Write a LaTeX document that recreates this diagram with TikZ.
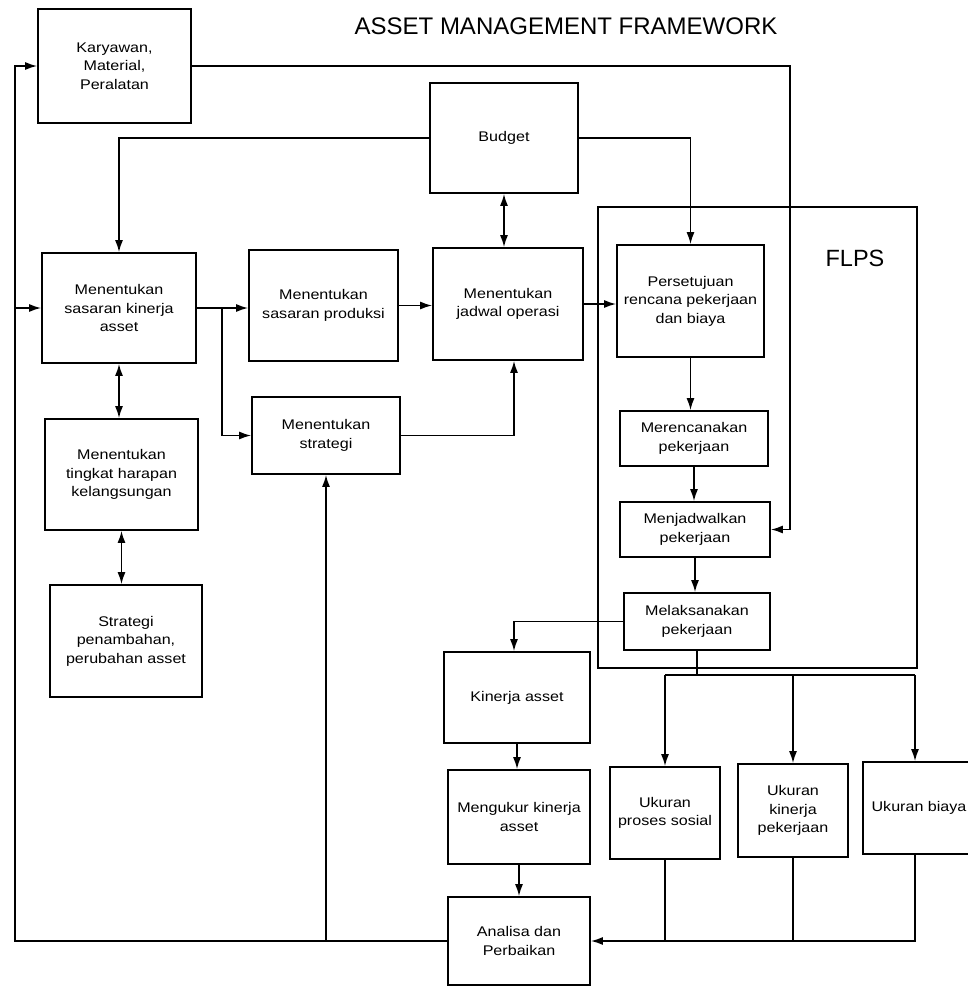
\documentclass[tikz,border=0pt]{standalone}
\usepackage{fontspec}
\setmainfont{Liberation Sans}
\newfontfamily\boxfont{Liberation Sans}[FakeStretch=1.15]
\usetikzlibrary{arrows.meta}
\tikzset{
  box/.style={draw, line width=1.7pt, align=center, inner sep=2pt,
    font=\boxfont\fontsize{14}{18.5}\selectfont},
  arr/.style={line width=1.6pt, -{Latex[length=12pt,width=8pt]}},
  darr/.style={line width=1.6pt, {Latex[length=12pt,width=8pt]}-{Latex[length=12pt,width=8pt]}},
  line/.style={line width=1.6pt},
}
\begin{document}
\begin{tikzpicture}[x=1pt,y=-1pt]
\useasboundingbox (0,0) rectangle (968,988);

% title and the FLPS frame
\node[font=\fontsize{24}{28}\selectfont] (title) at (566,26) {ASSET MANAGEMENT FRAMEWORK};
\node[draw, line width=1.7pt, minimum width=319pt, minimum height=461pt, inner sep=0pt] (flps) at (757.5,437.5) {};
\node[font=\fontsize{23.5}{27}\selectfont] (flpslabel) at (855,258) {FLPS};

% resources and budget
\node[box, minimum width=153pt, minimum height=114pt] (kar) at (114.5,66) {Karyawan,\\Material,\\Peralatan};
\node[box, minimum width=148pt, minimum height=110pt] (bud) at (504,138) {Budget};

% planning row
\node[box, minimum width=154pt, minimum height=110pt] (sk) at (119,308) {Menentukan\\sasaran kinerja\\asset};
\node[box, minimum width=149pt, minimum height=111pt] (sp) at (323.5,305.5) {Menentukan\\sasaran produksi};
\node[box, minimum width=150pt, minimum height=112pt] (jo) at (508,304) {Menentukan\\jadwal operasi};
\node[box, minimum width=148pt, minimum height=77pt] (st) at (326,435.5) {Menentukan\\strategi};

% asset strategy column
\node[box, minimum width=153pt, minimum height=111pt] (th) at (121.5,474.5) {Menentukan\\tingkat harapan\\kelangsungan};
\node[box, minimum width=152pt, minimum height=112pt] (sa) at (126,641) {Strategi\\penambahan,\\perubahan asset};

% FLPS steps
\node[box, minimum width=147pt, minimum height=112pt] (ps) at (690.5,301) {Persetujuan\\rencana pekerjaan\\dan biaya};
\node[box, minimum width=148pt, minimum height=55pt] (mr) at (694,438.5) {Merencanakan\\pekerjaan};
\node[box, minimum width=150pt, minimum height=55pt] (mj) at (695,529.5) {Menjadwalkan\\pekerjaan};
\node[box, minimum width=146pt, minimum height=57pt] (ml) at (697,621.5) {Melaksanakan\\pekerjaan};

% measurement and review
\node[box, minimum width=146pt, minimum height=91pt] (ka) at (517,697.5) {Kinerja asset};
\node[box, minimum width=142pt, minimum height=94pt] (mk) at (519,817) {Mengukur kinerja\\asset};
\node[box, minimum width=142pt, minimum height=88pt] (ap) at (519,941) {Analisa dan\\Perbaikan};
\node[box, minimum width=110pt, minimum height=92pt] (u1) at (665,813) {Ukuran\\proses sosial};
\node[box, minimum width=110pt, minimum height=93pt] (u2) at (793,810.5) {Ukuran\\kinerja\\pekerjaan};
\node[box, minimum width=112pt, minimum height=92pt] (u3) at (919,808) {Ukuran biaya};

% routing coordinates
\coordinate (kx) at (790,0);
\coordinate (lx) at (15,0);
\coordinate (bx) at (222,0);
\coordinate (uy) at (0,675);

% resources feed the work schedule
\draw[arr] (kar.east) -| (kx |- mj.east) -- (mj.east);

% feedback loop from review
\draw[arr] (ap.west) -| (lx |- kar.west) -- (kar.west);
\draw[arr] (lx |- sk.west) -- (sk.west);
\draw[arr] (st.south |- ap.west) -- (st.south);

% budget links
\draw[arr] (bud.west) -| (sk.north);
\draw[arr] (bud.east) -| (ps.north);
\draw[darr] (bud.south) -- (bud.south |- jo.north);

% planning flow
\draw[arr] (sk.east) -- (sk.east -| sp.west);
\draw[arr] (bx |- sk.east) |- (st.west);
\draw[arr] (sp.east) -- (sp.east -| jo.west);
\draw[arr] (jo.east) -- (jo.east -| ps.west);
\draw[arr] (st.east) -| ([xshift=6pt]jo.south);
\draw[darr] (sk.south) -- (sk.south |- th.north);
\draw[darr] (th.south) -- (th.south |- sa.north);

% FLPS flow
\draw[arr] (ps.south) -- (ps.south |- mr.north);
\draw[arr] (mr.south) -- (mr.south |- mj.north);
\draw[arr] (mj.south) -- (mj.south |- ml.north);
\draw[arr] (ml.west) -| ([xshift=-3pt]ka.north);

% measurements
\draw[line] (ml.south) -- (ml.south |- uy);
\draw[line] (u1.north |- uy) -- ([xshift=-4pt]u3.north |- uy);
\draw[arr] (u1.north |- uy) -- (u1.north);
\draw[arr] (u2.north |- uy) -- (u2.north);
\draw[arr] ([xshift=-4pt]u3.north |- uy) -- ([xshift=-4pt]u3.north);
\draw[arr] (ka.south) -- (ka.south |- mk.north);
\draw[arr] (mk.south) -- (mk.south |- ap.north);
\draw[line] (u1.south) -- (u1.south |- ap.east);
\draw[line] (u2.south) -- (u2.south |- ap.east);
\draw[arr] ([xshift=-4pt]u3.south) |- (ap.east);
\end{tikzpicture}
\end{document}
